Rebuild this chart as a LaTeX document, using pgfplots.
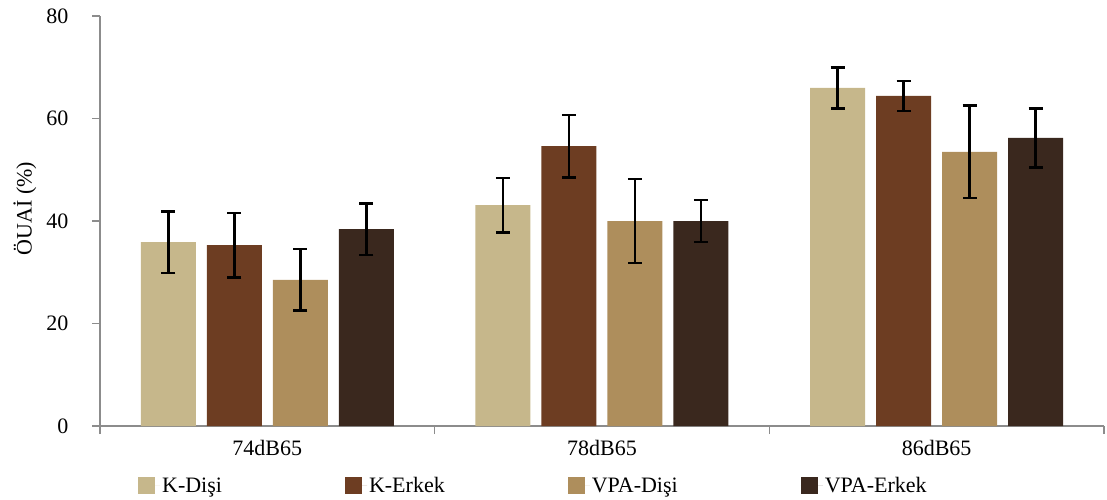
\documentclass[border=0pt]{standalone}
\usepackage{fontspec}
\setmainfont{Liberation Serif}
\usepackage{pgfplots}
\pgfplotsset{compat=1.18}
\definecolor{kdisi}{HTML}{C6B78B}
\definecolor{kerkek}{HTML}{6D3D22}
\definecolor{vpadisi}{HTML}{AE8E5C}
\definecolor{vpaerkek}{HTML}{3A281E}
\definecolor{axgray}{HTML}{8C8C8C}
\newcommand{\ff}{\fontsize{22}{26}\selectfont}
\begin{document}
\begin{tikzpicture}
\useasboundingbox (0,0) rectangle (1107pt,499pt);
\begin{axis}[
  at={(100pt,73pt)}, anchor=south west,
  scale only axis, width=1004pt, height=410pt,
  ybar=11pt, bar width=55pt,
  xmin=-0.5, xmax=2.5, ymin=0, ymax=80,
  axis x line*=bottom, axis y line*=left,
  axis line style={axgray, line width=1.6pt},
  every tick/.style={axgray, line width=1.6pt},
  tick align=outside, major tick length=8pt,
  ytick={0,20,40,60,80},
  xtick={-0.5,0.5,1.5,2.5}, xticklabels={},
  extra x ticks={0,1,2},
  extra x tick labels={74dB65,78dB65,86dB65},
  extra x tick style={major tick length=0pt},
  ticklabel style={font=\ff},
  xticklabel style={yshift=-11pt},
  yticklabel style={xshift=-20pt},
  /pgf/number format/assume math mode=true,
  ylabel={ÖUAİ (\%)},
  ylabel style={font=\ff, at={(axis description cs:-0.0747,0.53)}, anchor=center, rotate=0},
  legend columns=4,
  legend style={draw=none, fill=none, font=\ff, at={(0.0378,-0.1463)}, anchor=west,
    inner xsep=0pt, inner ysep=0pt,
    /tikz/every even column/.append style={column sep=121pt}},
  legend image code/.code={\fill[#1] (0pt,-8.5pt) rectangle (17pt,8.5pt); \path (0pt,0pt) -- (22pt,0pt);},
  error bars/y dir=both, error bars/y explicit,
  error bars/error bar style={black, line width=2.5pt},
  error bars/error mark options={black, rotate=90, mark size=7pt, line width=2.5pt},
]
\addplot[fill=kdisi, draw=none] coordinates {(0,35.9) +- (0,6.0) (1,43.1) +- (0,5.3) (2,66.0) +- (0,4.0)};
\addplot[fill=kerkek, draw=none] coordinates {(0,35.3) +- (0,6.3) (1,54.6) +- (0,6.1) (2,64.4) +- (0,2.9)};
\addplot[fill=vpadisi, draw=none] coordinates {(0,28.5) +- (0,6.0) (1,40.0) +- (0,8.2) (2,53.5) +- (0,9.0)};
\addplot[fill=vpaerkek, draw=none] coordinates {(0,38.4) +- (0,5.0) (1,40.0) +- (0,4.1) (2,56.2) +- (0,5.8)};
\legend{K-Dişi, K-Erkek, VPA-Dişi, VPA-Erkek}
\end{axis}
\end{tikzpicture}
\end{document}
